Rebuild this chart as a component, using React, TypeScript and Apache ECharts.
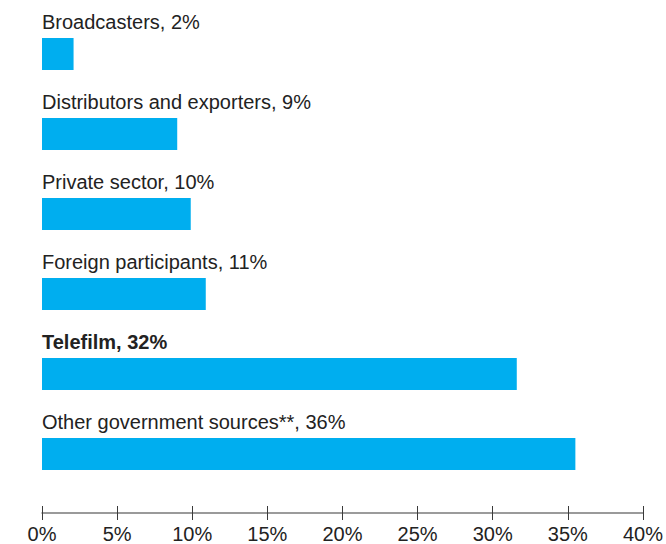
import React, { useEffect, useRef } from "react";
import * as echarts from "echarts";

const categories = [
  "Broadcasters",
  "Distributors and exporters",
  "Private sector",
  "Foreign participants",
  "Telefilm",
  "Other government sources**",
];
const values = [2.1, 9.0, 9.9, 10.9, 31.6, 35.5];
const shownPercents = ["2%", "9%", "10%", "11%", "32%", "36%"];
const boldCategory = "Telefilm";
const xTicks = { min: 0, max: 40, interval: 5 };

const FONT = '"Liberation Sans", Arial, Helvetica, sans-serif';

export default function App() {
  const ref = useRef<HTMLDivElement>(null);
  useEffect(() => {
    if (!ref.current) return;
    const chart = echarts.init(ref.current, undefined, { renderer: "svg" });
    const data = values.map((v, i) => ({
      value: v,
      label: categories[i] === boldCategory ? { fontWeight: "bold" as const } : undefined,
    }));
    const axisCommon = {
      type: "value" as const,
      position: "bottom" as const,
      min: xTicks.min,
      max: xTicks.max,
      interval: xTicks.interval,
      offset: 19,
      splitLine: { show: false },
    };
    chart.setOption({
      animation: false,
      textStyle: { fontFamily: FONT },
      grid: { left: 42, right: 20.3, top: 14, bottom: 50, containLabel: false },
      xAxis: [
        {
          ...axisCommon,
          axisLine: { show: true, onZero: false, lineStyle: { color: "#7a7a7a", width: 1.5 } },
          axisTick: { show: true, inside: false, length: 7, lineStyle: { color: "#3a3a3a", width: 1 } },
          axisLabel: {
            formatter: "{value}%",
            color: "#222",
            fontSize: 20,
            fontFamily: FONT,
            margin: 11,
          },
        },
        {
          ...axisCommon,
          axisLine: { show: false, onZero: false },
          axisTick: { show: true, inside: true, length: 7, lineStyle: { color: "#3a3a3a", width: 1 } },
          axisLabel: { show: false },
        },
      ],
      yAxis: {
        type: "category",
        data: categories,
        inverse: true,
        show: false,
      },
      series: [
        {
          type: "bar",
          xAxisIndex: 0,
          data,
          barWidth: 32,
          itemStyle: { color: "#00AEEF" },
          label: {
            show: true,
            position: [0, -6],
            align: "left",
            verticalAlign: "bottom",
            fontSize: 20,
            fontFamily: FONT,
            color: "#222",
            formatter: (p: any) => `${categories[p.dataIndex]}, ${shownPercents[p.dataIndex]}`,
          },
        },
      ],
    });
    return () => chart.dispose();
  }, []);
  return (
    <div
      ref={ref}
      style={{ position: "fixed", left: 0, top: 0, width: 666, height: 544, background: "#fff" }}
    />
  );
}
